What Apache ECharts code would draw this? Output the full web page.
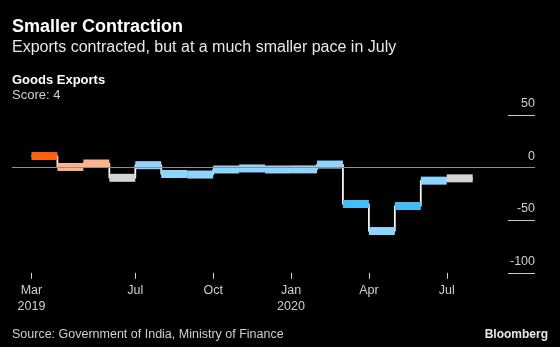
<!DOCTYPE html>
<html>
<head>
<meta charset="utf-8">
<script src="https://cdn.jsdelivr.net/npm/echarts@6/dist/echarts.min.js"></script>
<style>
  html, body { margin: 0; padding: 0; background: #000; }
  #chart { width: 560px; height: 347px; }
</style>
</head>
<body>
<div id="chart"></div>
<script>
// Goods exports, year-on-year % change, Mar 2019 – Jul 2020
const months = ['Mar 2019', 'Apr 2019', 'May 2019', 'Jun 2019', 'Jul 2019', 'Aug 2019',
  'Sep 2019', 'Oct 2019', 'Nov 2019', 'Dec 2019', 'Jan 2020', 'Feb 2020',
  'Mar 2020', 'Apr 2020', 'May 2020', 'Jun 2020', 'Jul 2020'];
const exportGrowth = [11.0, 0.6, 3.9, -9.7, 2.3, -6.1, -6.6, -1.8, -0.8, -1.8, -1.7, 2.9,
  -34.6, -60.3, -36.5, -12.4, -10.2];
// Score band of each month
const scoreBand = ['high', 'warm', 'warm', 'neutral', 'cool', 'cool', 'cool', 'cool', 'cool',
  'cool', 'cool', 'cool', 'cold', 'cool', 'cold', 'cool', 'neutral'];
// Month ticks that carry labels
const tickMonths = [0, 4, 7, 10, 13, 16];
const tickLabels = ['Mar\n2019', 'Jul', 'Oct', 'Jan\n2020', 'Apr', 'Jul'];
// Value axis: -100 to 50 in steps of 50
const yMin = -100, yMax = 50, yStep = 50;

const bandColor = {
  high: '#ff5f10',
  warm: '#ffb28a',
  neutral: '#d4d4d4',
  cool: '#8dd5ff',
  cold: '#44bdf4'
};

const FONT = 'Liberation Sans, Arial, sans-serif';

const barData = exportGrowth.map((v, i) => [i, v]);
// Step line joining the monthly levels
const stepData = exportGrowth.map((v, i) => [i, v]);
stepData.push([exportGrowth.length, exportGrowth[exportGrowth.length - 1]]);

const chart = echarts.init(document.getElementById('chart'), null, { renderer: 'canvas' });

const plotTop = 115, plotBottom = 74.2;

chart.setOption({
  backgroundColor: '#000',
  animation: false,
  graphic: [
    { type: 'text', left: 12, top: 18, style: { text: 'Smaller Contraction', fill: '#fff', font: 'bold 18px ' + FONT } },
    { type: 'text', left: 12, top: 40, style: { text: 'Exports contracted, but at a much smaller pace in July', fill: '#e8e8e8', font: '16px ' + FONT } },
    { type: 'text', left: 12, top: 74, style: { text: 'Goods Exports', fill: '#fff', font: 'bold 13px ' + FONT } },
    { type: 'text', left: 12, top: 89, style: { text: 'Score: 4', fill: '#cfcfcf', font: '13px ' + FONT } },
    { type: 'text', left: 12, top: 328, style: { text: 'Source: Government of India, Ministry of Finance', fill: '#cfcfcf', font: '12.5px ' + FONT } },
    { type: 'text', right: 12, top: 329, style: { text: 'Bloomberg', fill: '#e8e8e8', font: 'bold 12px ' + FONT } }
  ],
  grid: [
    // main plot
    { left: 12, right: 25, top: plotTop, bottom: plotBottom, containLabel: false },
    // narrow strip holding the value-axis rules
    { left: 508, right: 25, top: plotTop, bottom: plotBottom, containLabel: false }
  ],
  xAxis: [
    {
      gridIndex: 0,
      type: 'value',
      position: 'bottom',
      min: -0.75,
      max: 19.4,
      axisLine: { show: false, onZero: false },
      splitLine: { show: false },
      axisTick: {
        show: true,
        customValues: tickMonths,
        length: 6,
        lineStyle: { color: '#cfcfcf', width: 1 }
      },
      axisLabel: {
        customValues: tickMonths,
        formatter: (val) => tickLabels[tickMonths.indexOf(Math.round(val))] || '',
        color: '#cfcfcf',
        fontFamily: FONT,
        fontSize: 12.5,
        lineHeight: 16,
        margin: 10
      }
    },
    { gridIndex: 1, type: 'value', show: false, min: 0, max: 1 }
  ],
  yAxis: [
    {
      gridIndex: 0,
      type: 'value',
      min: yMin,
      max: yMax,
      interval: yStep,
      show: false
    },
    {
      gridIndex: 1,
      type: 'value',
      position: 'right',
      min: yMin,
      max: yMax,
      interval: yStep,
      axisLine: { show: false },
      axisTick: { show: false },
      splitLine: { show: true, lineStyle: { color: '#c8c8c8', width: 1 } },
      axisLabel: {
        inside: true,
        margin: 0,
        color: '#cfcfcf',
        fontFamily: FONT,
        fontSize: 12.5,
        verticalAlign: 'bottom',
        padding: [0, 0, 5, 0]
      }
    }
  ],
  series: [
    {
      type: 'line',
      xAxisIndex: 0,
      yAxisIndex: 0,
      data: [],
      z: 1,
      silent: true,
      markLine: {
        symbol: 'none',
        silent: true,
        label: { show: false },
        lineStyle: { color: '#8f8f8f', width: 1, type: 'solid' },
        data: [{ yAxis: 0 }]
      }
    },
    {
      type: 'line',
      xAxisIndex: 0,
      yAxisIndex: 0,
      step: 'end',
      data: stepData,
      showSymbol: false,
      z: 2,
      silent: true,
      lineStyle: { color: '#f2f2f2', width: 1.8 }
    },
    {
      type: 'custom',
      xAxisIndex: 0,
      yAxisIndex: 0,
      z: 3,
      data: barData,
      renderItem: (params, api) => {
        const i = api.value(0);
        const v = api.value(1);
        const a = api.coord([i, v]);
        const b = api.coord([i + 1, v]);
        return {
          type: 'rect',
          shape: { x: a[0], y: a[1] - 4, width: b[0] - a[0], height: 8 },
          style: { fill: bandColor[scoreBand[params.dataIndex]] }
        };
      }
    }
  ]
});
</script>
</body>
</html>
